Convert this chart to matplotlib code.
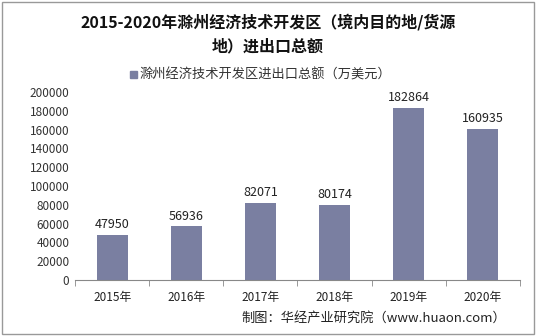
import matplotlib.pyplot as plt
import numpy as np

plt.rcParams['font.family'] = ['Noto Sans CJK SC', 'DejaVu Sans']

years = ['2015年', '2016年', '2017年', '2018年', '2019年', '2020年']
values = [47950, 56936, 82071, 80174, 182864, 160935]
yticks = np.arange(0, 200001, 20000)

bar_color = '#7a7fa1'

fig = plt.figure(figsize=(5.36, 3.36), dpi=100)
ax = fig.add_axes([0.14, 0.167, 0.83, 0.559])

x = np.arange(len(years))
ax.bar(x, values, width=0.42, color=bar_color, zorder=2)
for xi, v in zip(x, values):
    ax.text(xi, v + 4000, str(v), ha='center', va='bottom', fontsize=9, color='#222222')

ax.set_xlim(-0.5, len(years) - 0.5)
ax.set_ylim(0, 200000)
ax.set_yticks(yticks)
ax.set_yticklabels([str(t) for t in yticks], fontsize=8.5, color='#333333')
ax.set_xticks(x)
ax.set_xticklabels(years, fontsize=8.5, color='#222222')
ax.tick_params(axis='x', length=0, pad=8)
ax.tick_params(axis='y', length=0, pad=4)
# category separator ticks like the reference
ax.set_xticks(np.arange(-0.5, len(years)), minor=True)
ax.tick_params(axis='x', which='minor', length=4, color='#888888')

for s in ['top', 'right', 'left']:
    ax.spines[s].set_visible(False)
ax.spines['bottom'].set_color('#888888')

fig.text(0.5, 0.935, '2015-2020年滁州经济技术开发区（境内目的地/货源', ha='center', va='center',
         fontsize=11.5, fontweight='bold', color='#111111')
fig.text(0.5, 0.862, '地）进出口总额', ha='center', va='center',
         fontsize=11.5, fontweight='bold', color='#111111')

fig.patches.append(plt.Rectangle((0.243, 0.768), 0.013, 0.022, transform=fig.transFigure,
                                 color=bar_color))
fig.text(0.26, 0.778, '滁州经济技术开发区进出口总额（万美元）', ha='left', va='center',
         fontsize=9.5, color='#333333')

fig.text(0.945, 0.052, '制图：华经产业研究院（www.huaon.com）', ha='right', va='center',
         fontsize=9.5, color='#222222')

fig.patches.append(plt.Rectangle((0.003, 0.006), 0.994, 0.988, transform=fig.transFigure,
                                 fill=False, edgecolor='#999999', linewidth=1))

fig.savefig('out.png', dpi=100)
